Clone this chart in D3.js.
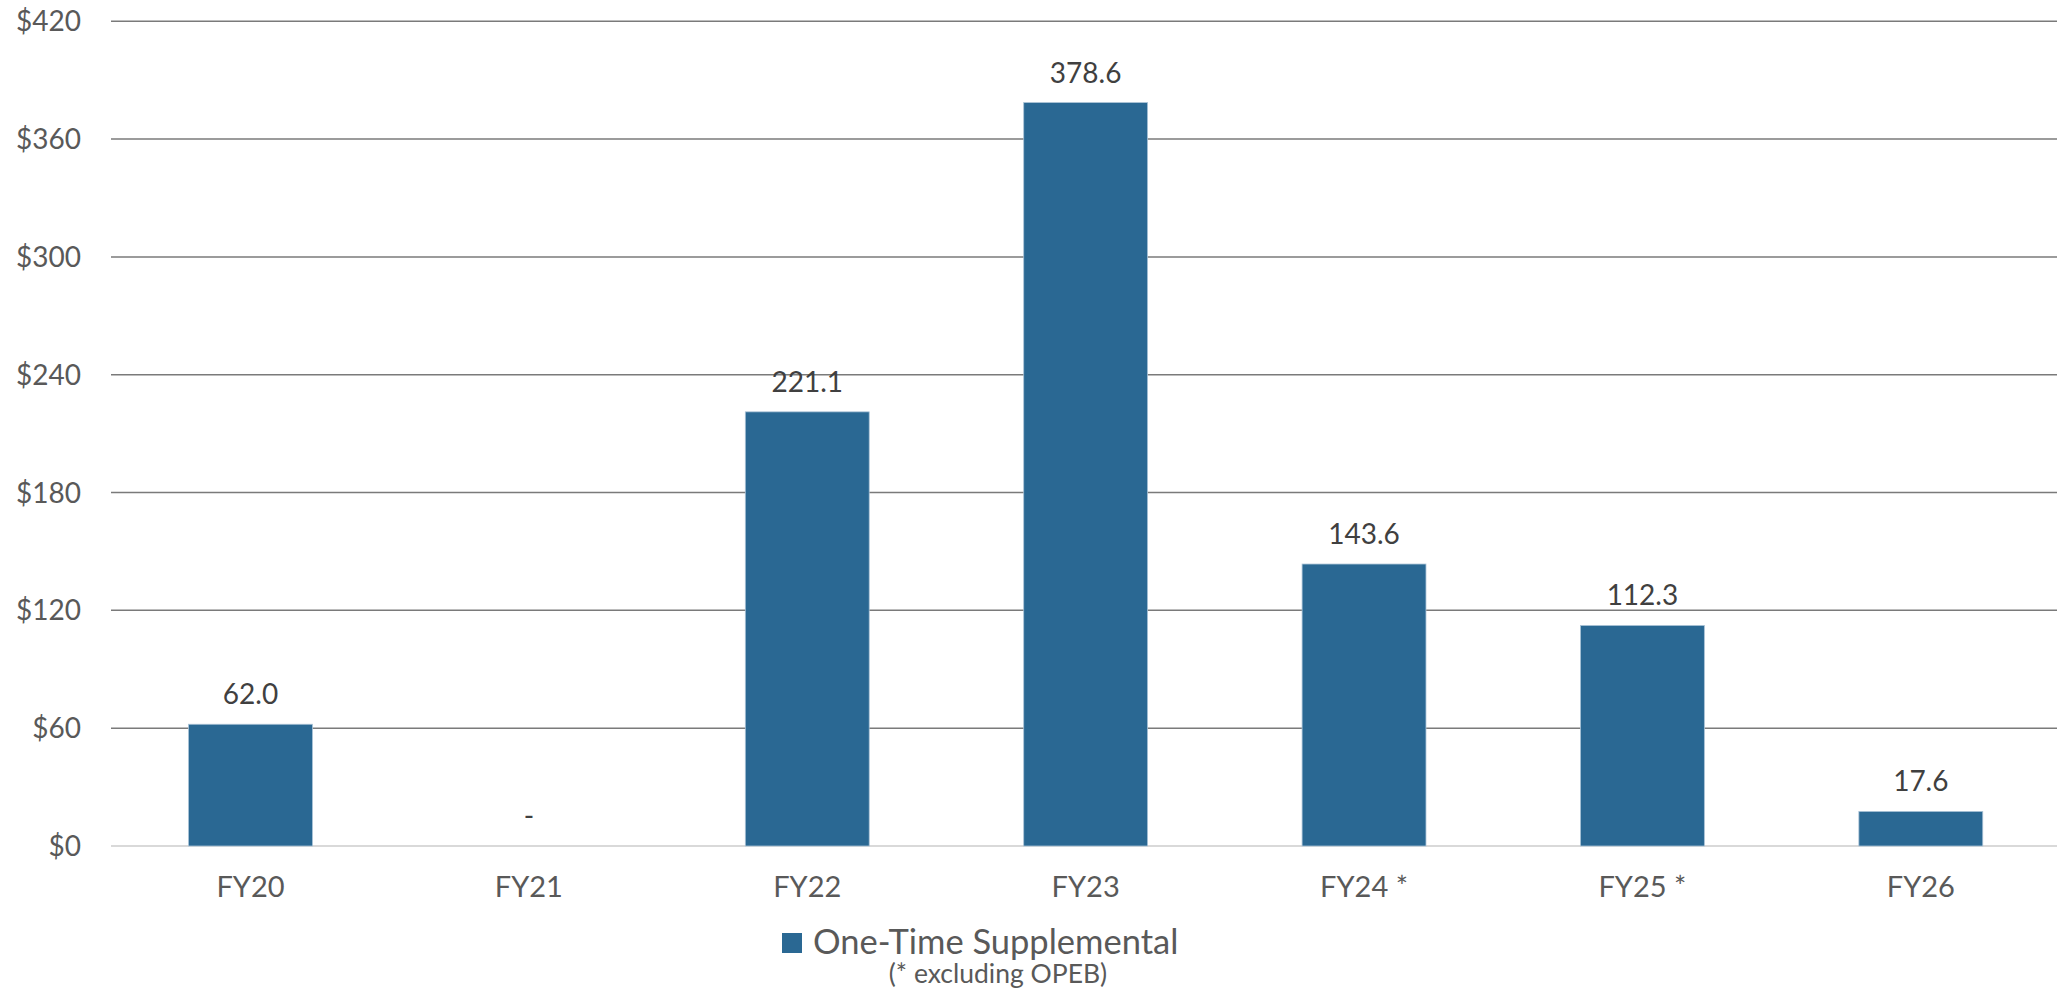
<!DOCTYPE html>
<html><head><meta charset="utf-8">
<script src="https://cdn.jsdelivr.net/npm/d3@7"></script>
<style>body{margin:0;background:#fff;} text{font-family:Lato, "Open Sans", sans-serif;fill:#595959;}</style>
</head><body>
<svg id="c" width="2057" height="991"></svg>
<script>
const categories = ["FY20","FY21","FY22","FY23","FY24 *","FY25 *","FY26"];
const values = [62.0, 0, 221.1, 378.6, 143.6, 112.3, 17.6];
const valueLabels = ["62.0","-","221.1","378.6","143.6","112.3","17.6"];
const yTicks = [0,60,120,180,240,300,360,420];
const seriesName = "One-Time Supplemental";
const note = "(* excluding OPEB)";

const svg = d3.select("#c");
const x = d3.scaleBand().domain(categories).range([111.3, 2060]).paddingInner(0.555).paddingOuter(0.2775);
const y = d3.scaleLinear().domain([0,420]).range([846, 21.3]);

// gridlines
svg.append("g").selectAll("line").data(yTicks.filter(d=>d>0)).join("line")
  .attr("x1",111).attr("x2",2057).attr("y1",d=>y(d)).attr("y2",d=>y(d))
  .attr("stroke","#7a7a7a").attr("stroke-width",1.5);
svg.append("line").attr("x1",111).attr("x2",2057).attr("y1",y(0)).attr("y2",y(0))
  .attr("stroke","#d9d9d9").attr("stroke-width",2);

// y labels
svg.append("g").selectAll("text").data(yTicks).join("text")
  .attr("x",81).attr("y",d=>y(d)).attr("dy","0.36em").attr("text-anchor","end")
  .attr("font-size",28).text(d=>"$"+d);

// bars
svg.append("g").selectAll("rect").data(values).join("rect")
  .attr("x",(d,i)=>x(categories[i])).attr("width",x.bandwidth())
  .attr("y",d=>y(d)).attr("height",d=>y(0)-y(d))
  .attr("fill","#2a6893").attr("stroke","#a9c2d6").attr("stroke-width",0.8)
  .style("display",d=>d>0?null:"none");

// value labels
svg.append("g").selectAll("text").data(values).join("text")
  .attr("x",(d,i)=>x(categories[i])+x.bandwidth()/2).attr("y",d=>y(d)-20)
  .attr("text-anchor","middle").attr("font-size",28).style("fill","#404040")
  .text((d,i)=>valueLabels[i]);

// category labels
svg.append("g").selectAll("text").data(categories).join("text")
  .attr("x",d=>x(d)+x.bandwidth()/2).attr("y",897).attr("text-anchor","middle")
  .attr("font-size",29).text(d=>d);

// legend
svg.append("rect").attr("x",782).attr("y",933).attr("width",20).attr("height",20).attr("fill","#2a6893");
svg.append("text").attr("x",813).attr("y",954).attr("font-size",34.5).text(seriesName);
svg.append("text").attr("x",998).attr("y",983).attr("text-anchor","middle").attr("font-size",26.5).text(note);
</script>
</body></html>
